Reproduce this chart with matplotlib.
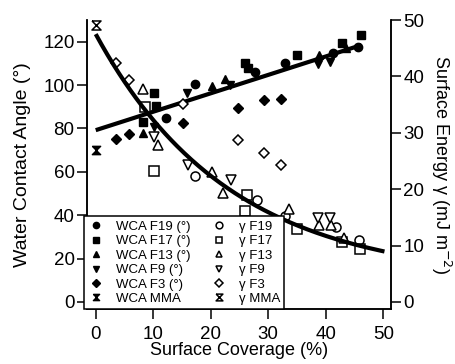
import numpy as np
import matplotlib
matplotlib.use("Agg")
import matplotlib.pyplot as plt

plt.rcParams['font.family'] = ['Liberation Sans', 'DejaVu Sans']

# ---- data (surface coverage %, WCA deg on left axis, gamma mJ/m2 on right axis)
f19_x = [12.3, 17.2, 27.7, 32.9, 41.2, 45.6]
f19_wca = [85.0, 100.5, 106.0, 110.0, 114.8, 117.7]
f19_gx = [17.2, 28.0, 32.9, 41.8, 45.7]
f19_g = [22.4, 18.1, 15.2, 13.2, 11.0]

f17_x = [8.3, 10.2, 10.4, 25.9, 26.5, 35.0, 42.9, 46.2]
f17_wca = [83.0, 96.5, 90.3, 110.0, 108.0, 113.8, 119.2, 123.1]
f17_gx = [8.5, 10.2, 25.9, 26.3, 35.0, 42.9, 45.9]
f17_g = [34.6, 23.3, 16.2, 19.0, 13.0, 10.7, 9.3]

f13_x = [8.2, 20.2, 22.4, 38.9, 43.5]
f13_wca = [78.0, 99.5, 102.6, 114.0, 117.0]
f13_gx = [8.2, 10.9, 20.3, 22.2, 33.6, 38.9, 40.9, 43.2]
f13_g = [37.7, 27.9, 23.0, 19.4, 16.5, 13.6, 13.6, 11.3]

f9_x = [10.1, 15.8, 23.4, 38.7, 40.7]
f9_wca = [80.8, 96.2, 100.0, 109.5, 110.5]
f9_gx = [10.1, 16.1, 23.5, 38.7, 40.7]
f9_g = [29.3, 24.3, 21.7, 14.8, 14.8]

f3_x = [3.5, 5.8, 15.2, 24.7, 29.2, 32.2]
f3_wca = [75.0, 77.2, 82.3, 89.6, 93.1, 93.4]
f3_g = [42.4, 39.4, 35.1, 28.7, 26.4, 24.2]

mma_x = [0.0]
mma_wca = [70.0]
mma_g = [49.1]

# fit lines
wca_fit_intercept = 79.2
wca_fit_slope = 0.85
wca_fit_range = (0.0, 46.2)
g_fit_y0, g_fit_a, g_fit_b = 3.9, 43.6, 0.043
g_fit_range = (0.0, 50.2)

hourglass = [(-1, 1), (1, 1), (-1, -1), (1, -1), (-1, 1)]

fig = plt.figure(figsize=(4.56, 3.64), dpi=100)
ax = fig.add_axes([0.191, 0.151, 0.666, 0.794])
ax2 = ax.twinx()

ms = 6.0
kw_f = dict(ls='none', color='black', markersize=ms)
kw_o = dict(ls='none', markerfacecolor='white', markeredgecolor='black',
            markeredgewidth=1.1, markersize=ms + 0.5)

h_wca = []
h_wca.append(ax.plot(f19_x, f19_wca, marker='o', label='WCA F19 (°)', **kw_f)[0])
h_wca.append(ax.plot(f17_x, f17_wca, marker='s', label='WCA F17 (°)', **kw_f)[0])
h_wca.append(ax.plot(f13_x, f13_wca, marker='^', label='WCA F13 (°)', **kw_f)[0])
h_wca.append(ax.plot(f9_x, f9_wca, marker='v', label='WCA F9 (°)', **kw_f)[0])
h_wca.append(ax.plot(f3_x, f3_wca, marker='D', label='WCA F3 (°)',
                     ls='none', color='black', markersize=ms - 1)[0])
h_wca.append(ax.plot(mma_x, mma_wca, marker=hourglass, label='WCA MMA', **kw_f)[0])

xf = np.linspace(*wca_fit_range, 50)
ax.plot(xf, wca_fit_intercept + wca_fit_slope * xf, color='black', lw=3.0,
        solid_capstyle='butt')

h_g = []
h_g.append(ax2.plot(f19_gx, f19_g, marker='o', label='γ F19', **kw_o)[0])
h_g.append(ax2.plot(f17_gx, f17_g, marker='s', label='γ F17', **kw_o)[0])
h_g.append(ax2.plot(f13_gx, f13_g, marker='^', label='γ F13', **kw_o)[0])
h_g.append(ax2.plot(f9_gx, f9_g, marker='v', label='γ F9', **kw_o)[0])
h_g.append(ax2.plot(f3_x, f3_g, marker='D', label='γ F3',
                    ls='none', markerfacecolor='white', markeredgecolor='black',
                    markeredgewidth=1.1, markersize=ms - 1)[0])
h_g.append(ax2.plot(mma_x, mma_g, marker=hourglass, label='γ MMA', **kw_o)[0])

xg = np.linspace(*g_fit_range, 200)
ax2.plot(xg, g_fit_y0 + g_fit_a * np.exp(-g_fit_b * xg), color='black', lw=3.0,
         solid_capstyle='butt')

ax.set_xlim(-1.5, 51.3)
ax.set_ylim(-3.3, 130)
ax2.set_ylim(-1.27, 50)

ax.set_xticks([0, 10, 20, 30, 40, 50])
ax.set_yticks([0, 20, 40, 60, 80, 100, 120])
ax2.set_yticks([0, 10, 20, 30, 40, 50])

for a in (ax, ax2):
    a.spines['top'].set_visible(False)
    for s in a.spines.values():
        s.set_linewidth(1.1)
    a.tick_params(direction='out', length=7, width=1.1, labelsize=13.5, pad=2)
ax.tick_params(axis='x', pad=5)

ax.set_xlabel('Surface Coverage (%)', fontsize=13, va='center')
ax.set_ylabel('Water Contact Angle (°)', fontsize=14, va='center')
ax2.set_ylabel('Surface Energy γ (mJ m$^{-2}$)', fontsize=13, rotation=270,
               va='center')
ax.xaxis.set_label_coords(0.5, -0.145)
ax.yaxis.set_label_coords(-0.214, 0.5)
ax2.yaxis.set_label_coords(1.166, 0.5)

leg = ax2.legend(handles=h_wca + h_g, ncol=2, loc='lower left',
                 bbox_to_anchor=(-0.01, 0.0), borderaxespad=0, fontsize=9.5,
                 frameon=True, fancybox=False, edgecolor='black',
                 labelspacing=0.17, handlelength=1.2, handletextpad=0.9,
                 columnspacing=1.6, markerscale=0.75, borderpad=0.3)
leg.get_frame().set_linewidth(1.1)
leg.get_frame().set_alpha(1)

fig.savefig('out.png', dpi=100)
